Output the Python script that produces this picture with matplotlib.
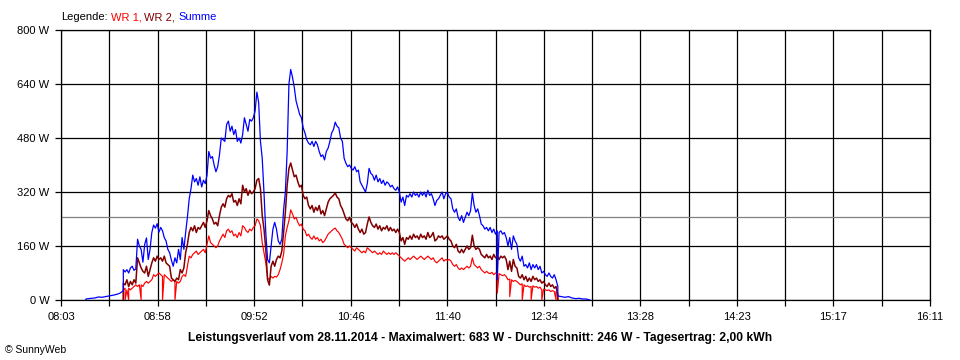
import matplotlib
matplotlib.use("Agg")
import matplotlib.pyplot as plt
import numpy as np

plt.rcParams['font.family'] = ['Liberation Sans', 'DejaVu Sans']

# time axis 08:03 .. 16:11, labels every 54 min
tick_labels = ["08:03", "08:58", "09:52", "10:46", "11:40", "12:34", "13:28", "14:23", "15:17", "16:11"]
y_ticks = [0, 160, 320, 480, 640, 800]
average = 246

# WR 1 (W)
wr1 = [
    ("08:38", 0), ("08:38", 30), ("08:39", 35), ("08:39", 0), ("08:40", 30), ("08:41", 0), ("08:41", 35),
    ("08:42", 30), ("08:43", 35), ("08:44", 40), ("08:45", 45), ("08:46", 40), ("08:47", 45), ("08:48", 0),
    ("08:48", 45), ("08:49", 40), ("08:50", 50), ("08:51", 55), ("08:52", 50), ("08:53", 55), ("08:54", 60),
    ("08:55", 75), ("08:56", 70), ("08:57", 75), ("08:58", 80), ("08:59", 75), ("09:00", 70), ("09:00", 0),
    ("09:01", 75), ("09:02", 70), ("09:03", 65), ("09:04", 60), ("09:05", 55), ("09:06", 60), ("09:07", 55),
    ("09:07", 0), ("09:08", 55), ("09:09", 50), ("09:10", 55), ("09:11", 70), ("09:12", 75), ("09:13", 70),
    ("09:14", 100), ("09:15", 130), ("09:16", 125), ("09:17", 135), ("09:18", 140), ("09:19", 145),
    ("09:20", 135), ("09:21", 140), ("09:22", 145), ("09:23", 150), ("09:24", 140), ("09:25", 165),
    ("09:26", 190), ("09:27", 170), ("09:28", 165), ("09:29", 160), ("09:30", 155), ("09:31", 160),
    ("09:32", 175), ("09:33", 185), ("09:34", 195), ("09:35", 185), ("09:36", 205), ("09:37", 210),
    ("09:38", 200), ("09:39", 205), ("09:40", 190), ("09:41", 195), ("09:42", 185), ("09:43", 200),
    ("09:44", 190), ("09:45", 220), ("09:46", 215), ("09:47", 205), ("09:48", 200), ("09:49", 210),
    ("09:50", 205), ("09:51", 215), ("09:52", 220), ("09:53", 240), ("09:54", 235), ("09:55", 220),
    ("09:56", 170), ("09:57", 140), ("09:58", 110), ("09:59", 65), ("10:00", 60), ("10:01", 70),
    ("10:02", 65), ("10:03", 70), ("10:04", 68), ("10:05", 75), ("10:06", 90), ("10:07", 110),
    ("10:08", 135), ("10:09", 190), ("10:10", 215), ("10:11", 235), ("10:12", 267), ("10:13", 255),
    ("10:14", 240), ("10:15", 245), ("10:16", 230), ("10:17", 220), ("10:18", 225), ("10:19", 210),
    ("10:20", 205), ("10:21", 190), ("10:22", 195), ("10:23", 185), ("10:24", 180), ("10:25", 190),
    ("10:26", 180), ("10:27", 185), ("10:28", 175), ("10:29", 180), ("10:30", 170), ("10:31", 175),
    ("10:32", 185), ("10:33", 195), ("10:34", 200), ("10:35", 205), ("10:36", 210), ("10:37", 213),
    ("10:38", 205), ("10:39", 200), ("10:40", 190), ("10:41", 180), ("10:42", 165), ("10:43", 160),
    ("10:44", 155), ("10:45", 160), ("10:46", 155), ("10:47", 150), ("10:48", 145), ("10:49", 155),
    ("10:50", 150), ("10:51", 145), ("10:52", 140), ("10:53", 145), ("10:54", 140), ("10:55", 155),
    ("10:56", 150), ("10:57", 145), ("10:58", 140), ("10:59", 145), ("11:00", 140), ("11:01", 135),
    ("11:02", 140), ("11:03", 135), ("11:04", 145), ("11:05", 140), ("11:06", 135), ("11:07", 140),
    ("11:08", 135), ("11:09", 140), ("11:10", 135), ("11:11", 140), ("11:12", 135), ("11:13", 130),
    ("11:14", 125), ("11:15", 120), ("11:16", 115), ("11:17", 120), ("11:18", 125), ("11:19", 120),
    ("11:20", 125), ("11:21", 130), ("11:22", 125), ("11:23", 120), ("11:24", 125), ("11:25", 130),
    ("11:26", 125), ("11:27", 120), ("11:28", 125), ("11:29", 130), ("11:30", 125), ("11:31", 120),
    ("11:32", 125), ("11:33", 115), ("11:34", 110), ("11:35", 115), ("11:36", 120), ("11:37", 125),
    ("11:38", 115), ("11:39", 120), ("11:40", 118), ("11:41", 120), ("11:42", 115), ("11:43", 105),
    ("11:44", 100), ("11:45", 105), ("11:46", 95), ("11:47", 90), ("11:48", 95), ("11:49", 90),
    ("11:50", 95), ("11:51", 100), ("11:52", 95), ("11:53", 100), ("11:54", 125), ("11:55", 105),
    ("11:56", 100), ("11:57", 95), ("11:58", 100), ("11:59", 90), ("12:00", 85), ("12:01", 80),
    ("12:02", 85), ("12:03", 80), ("12:04", 78), ("12:05", 82), ("12:06", 75), ("12:07", 80),
    ("12:08", 78), ("12:08", 20), ("12:09", 78), ("12:10", 75), ("12:11", 72), ("12:12", 75),
    ("12:13", 70), ("12:14", 60), ("12:15", 62), ("12:15", 10), ("12:16", 60), ("12:17", 55),
    ("12:18", 58), ("12:19", 55), ("12:20", 50), ("12:21", 45), ("12:22", 48), ("12:22", 0),
    ("12:23", 45), ("12:24", 40), ("12:25", 42), ("12:26", 38), ("12:27", 40), ("12:27", 0),
    ("12:28", 42), ("12:29", 38), ("12:30", 40), ("12:31", 35), ("12:32", 38), ("12:33", 30),
    ("12:33", 0), ("12:34", 32), ("12:35", 30), ("12:36", 28), ("12:37", 30), ("12:38", 25),
    ("12:39", 28), ("12:40", 25), ("12:41", 0), ("12:41", 25), ("12:42", 20), ("12:42", 0),
]

# WR 2 (W)
wr2 = [
    ("08:38", 0), ("08:38", 50), ("08:39", 45), ("08:40", 60), ("08:41", 40), ("08:42", 55), ("08:43", 45),
    ("08:44", 60), ("08:45", 50), ("08:46", 125), ("08:47", 110), ("08:48", 95), ("08:49", 85),
    ("08:50", 80), ("08:51", 100), ("08:52", 70), ("08:53", 90), ("08:54", 110), ("08:55", 125),
    ("08:56", 115), ("08:57", 130), ("08:58", 120), ("08:59", 125), ("09:00", 115), ("09:01", 130),
    ("09:02", 110), ("09:03", 105), ("09:04", 100), ("09:05", 65), ("09:06", 60), ("09:07", 55),
    ("09:08", 65), ("09:09", 60), ("09:10", 90), ("09:11", 80), ("09:12", 95), ("09:13", 140),
    ("09:14", 165), ("09:15", 200), ("09:16", 215), ("09:17", 205), ("09:18", 220), ("09:19", 200),
    ("09:20", 215), ("09:21", 210), ("09:22", 220), ("09:23", 230), ("09:24", 215), ("09:25", 235),
    ("09:26", 265), ("09:27", 250), ("09:28", 240), ("09:29", 225), ("09:30", 230), ("09:31", 220),
    ("09:32", 250), ("09:33", 275), ("09:34", 285), ("09:35", 275), ("09:36", 300), ("09:37", 310),
    ("09:38", 305), ("09:39", 315), ("09:40", 290), ("09:41", 295), ("09:42", 280), ("09:43", 300),
    ("09:44", 285), ("09:45", 340), ("09:46", 320), ("09:47", 330), ("09:48", 310), ("09:49", 325),
    ("09:50", 315), ("09:51", 320), ("09:52", 330), ("09:53", 355), ("09:54", 360), ("09:55", 330),
    ("09:56", 250), ("09:57", 210), ("09:58", 150), ("09:59", 60), ("10:00", 44), ("10:01", 100),
    ("10:02", 115), ("10:03", 100), ("10:04", 120), ("10:05", 130), ("10:06", 125), ("10:07", 145),
    ("10:08", 200), ("10:09", 260), ("10:10", 340), ("10:11", 390), ("10:12", 406), ("10:13", 385),
    ("10:14", 365), ("10:15", 370), ("10:16", 350), ("10:17", 335), ("10:18", 340), ("10:19", 310),
    ("10:20", 300), ("10:21", 305), ("10:22", 280), ("10:23", 270), ("10:24", 280), ("10:25", 260),
    ("10:26", 275), ("10:27", 265), ("10:28", 280), ("10:29", 255), ("10:30", 265), ("10:31", 250),
    ("10:32", 270), ("10:33", 290), ("10:34", 300), ("10:35", 305), ("10:36", 310), ("10:37", 317),
    ("10:38", 305), ("10:39", 300), ("10:40", 280), ("10:41", 270), ("10:42", 255), ("10:43", 240),
    ("10:44", 235), ("10:45", 245), ("10:46", 230), ("10:47", 225), ("10:48", 215), ("10:49", 225),
    ("10:50", 210), ("10:51", 200), ("10:52", 210), ("10:53", 195), ("10:54", 200), ("10:55", 225),
    ("10:56", 246), ("10:57", 230), ("10:58", 220), ("10:59", 215), ("11:00", 225), ("11:01", 210),
    ("11:02", 220), ("11:03", 205), ("11:04", 215), ("11:05", 210), ("11:06", 220), ("11:07", 205),
    ("11:08", 215), ("11:09", 205), ("11:10", 210), ("11:11", 200), ("11:12", 210), ("11:13", 200),
    ("11:14", 175), ("11:15", 185), ("11:16", 165), ("11:17", 185), ("11:18", 180), ("11:19", 190),
    ("11:20", 180), ("11:21", 195), ("11:22", 185), ("11:23", 190), ("11:24", 180), ("11:25", 195),
    ("11:26", 185), ("11:27", 190), ("11:28", 180), ("11:29", 200), ("11:30", 185), ("11:31", 190),
    ("11:32", 200), ("11:33", 175), ("11:34", 180), ("11:35", 190), ("11:36", 185), ("11:37", 190),
    ("11:38", 180), ("11:39", 185), ("11:40", 190), ("11:41", 180), ("11:42", 175), ("11:43", 160),
    ("11:44", 155), ("11:45", 165), ("11:46", 145), ("11:47", 140), ("11:48", 150), ("11:49", 140),
    ("11:50", 150), ("11:51", 160), ("11:52", 150), ("11:53", 155), ("11:54", 192), ("11:55", 160),
    ("11:56", 150), ("11:57", 155), ("11:58", 150), ("11:59", 135), ("12:00", 130), ("12:01", 125),
    ("12:02", 135), ("12:03", 125), ("12:04", 130), ("12:05", 120), ("12:06", 135), ("12:07", 125),
    ("12:08", 130), ("12:09", 120), ("12:10", 130), ("12:11", 125), ("12:12", 130), ("12:13", 120),
    ("12:14", 90), ("12:15", 115), ("12:16", 85), ("12:17", 120), ("12:18", 100), ("12:19", 95),
    ("12:20", 70), ("12:21", 65), ("12:22", 75), ("12:23", 60), ("12:24", 70), ("12:25", 55),
    ("12:26", 65), ("12:27", 55), ("12:28", 70), ("12:29", 60), ("12:30", 65), ("12:31", 55),
    ("12:32", 60), ("12:33", 50), ("12:34", 55), ("12:35", 45), ("12:36", 40), ("12:37", 50),
    ("12:38", 40), ("12:39", 45), ("12:40", 35), ("12:41", 40), ("12:42", 10), ("12:42", 0),
]

# Summe (W)
summe = [
    ("08:17", 0), ("08:17", 3), ("08:20", 5), ("08:22", 6), ("08:24", 9), ("08:26", 8), ("08:28", 10),
    ("08:30", 12), ("08:33", 15), ("08:35", 18), ("08:36", 20), ("08:38", 27), ("08:38", 90),
    ("08:39", 83), ("08:40", 90), ("08:41", 80), ("08:42", 95), ("08:43", 100), ("08:44", 88),
    ("08:45", 92), ("08:46", 180), ("08:47", 160), ("08:48", 150), ("08:49", 112), ("08:50", 165),
    ("08:51", 184), ("08:52", 120), ("08:53", 150), ("08:54", 200), ("08:55", 222), ("08:56", 213),
    ("08:57", 226), ("08:58", 201), ("08:59", 215), ("09:00", 205), ("09:01", 185), ("09:02", 175),
    ("09:03", 150), ("09:04", 140), ("09:05", 118), ("09:06", 100), ("09:07", 125), ("09:08", 110),
    ("09:09", 150), ("09:10", 120), ("09:11", 185), ("09:12", 150), ("09:13", 200), ("09:14", 246),
    ("09:15", 300), ("09:16", 330), ("09:17", 370), ("09:18", 350), ("09:19", 360), ("09:20", 340),
    ("09:21", 365), ("09:22", 335), ("09:23", 355), ("09:24", 345), ("09:25", 370), ("09:26", 440),
    ("09:27", 420), ("09:28", 425), ("09:29", 400), ("09:30", 380), ("09:31", 395), ("09:32", 430),
    ("09:33", 480), ("09:34", 475), ("09:35", 470), ("09:36", 520), ("09:37", 530), ("09:38", 500),
    ("09:39", 515), ("09:40", 490), ("09:41", 505), ("09:42", 470), ("09:43", 480), ("09:44", 465),
    ("09:45", 490), ("09:46", 540), ("09:47", 520), ("09:48", 500), ("09:49", 535), ("09:50", 530),
    ("09:51", 540), ("09:52", 560), ("09:53", 616), ("09:54", 585), ("09:55", 470), ("09:56", 420),
    ("09:57", 317), ("09:58", 200), ("09:59", 120), ("10:00", 110), ("10:01", 160), ("10:02", 210),
    ("10:03", 230), ("10:04", 210), ("10:05", 175), ("10:06", 165), ("10:07", 180), ("10:08", 267),
    ("10:09", 320), ("10:10", 440), ("10:11", 640), ("10:12", 683), ("10:13", 660), ("10:14", 630),
    ("10:15", 590), ("10:16", 570), ("10:17", 550), ("10:18", 540), ("10:19", 510), ("10:20", 495),
    ("10:21", 475), ("10:22", 465), ("10:23", 460), ("10:24", 470), ("10:25", 455), ("10:26", 470),
    ("10:27", 460), ("10:28", 440), ("10:29", 425), ("10:30", 430), ("10:31", 415), ("10:32", 440),
    ("10:33", 450), ("10:34", 470), ("10:35", 495), ("10:36", 505), ("10:37", 527), ("10:38", 515),
    ("10:39", 510), ("10:40", 480), ("10:41", 470), ("10:42", 420), ("10:43", 405), ("10:44", 395),
    ("10:45", 400), ("10:46", 390), ("10:47", 385), ("10:48", 395), ("10:49", 380), ("10:50", 385),
    ("10:51", 350), ("10:52", 340), ("10:53", 330), ("10:54", 320), ("10:55", 345), ("10:56", 390),
    ("10:57", 375), ("10:58", 370), ("10:59", 355), ("11:00", 370), ("11:01", 350), ("11:02", 360),
    ("11:03", 345), ("11:04", 355), ("11:05", 340), ("11:06", 350), ("11:07", 345), ("11:08", 335),
    ("11:09", 340), ("11:10", 330), ("11:11", 325), ("11:12", 335), ("11:13", 320), ("11:14", 290),
    ("11:15", 305), ("11:16", 280), ("11:17", 310), ("11:18", 305), ("11:19", 315), ("11:20", 305),
    ("11:21", 320), ("11:22", 310), ("11:23", 315), ("11:24", 305), ("11:25", 320), ("11:26", 310),
    ("11:27", 320), ("11:28", 305), ("11:29", 325), ("11:30", 310), ("11:31", 315), ("11:32", 300),
    ("11:33", 280), ("11:34", 295), ("11:35", 300), ("11:36", 310), ("11:37", 320), ("11:38", 300),
    ("11:39", 315), ("11:40", 318), ("11:41", 305), ("11:42", 300), ("11:43", 270), ("11:44", 260),
    ("11:45", 270), ("11:46", 245), ("11:47", 235), ("11:48", 250), ("11:49", 230), ("11:50", 245),
    ("11:51", 260), ("11:52", 250), ("11:53", 265), ("11:54", 317), ("11:55", 280), ("11:56", 260),
    ("11:57", 270), ("11:58", 250), ("11:59", 225), ("12:00", 220), ("12:01", 210), ("12:02", 215),
    ("12:03", 205), ("12:04", 215), ("12:05", 200), ("12:06", 210), ("12:07", 195), ("12:08", 205),
    ("12:08", 60), ("12:09", 200), ("12:10", 205), ("12:11", 195), ("12:12", 200), ("12:13", 185),
    ("12:14", 160), ("12:15", 185), ("12:16", 150), ("12:17", 190), ("12:18", 175), ("12:19", 165),
    ("12:20", 125), ("12:21", 115), ("12:22", 130), ("12:23", 100), ("12:24", 105), ("12:25", 95),
    ("12:26", 110), ("12:27", 90), ("12:28", 105), ("12:29", 95), ("12:30", 105), ("12:31", 90),
    ("12:32", 100), ("12:33", 80), ("12:34", 85), ("12:35", 75), ("12:36", 70), ("12:37", 80),
    ("12:38", 70), ("12:39", 65), ("12:40", 75), ("12:41", 60), ("12:42", 40), ("12:42", 12),
    ("12:44", 10), ("12:46", 8), ("12:48", 10), ("12:50", 6), ("12:52", 4), ("12:54", 5),
    ("12:56", 3), ("12:58", 3), ("13:00", 0),
]


def to_min(s):
    h, m = s.split(":")
    return int(h) * 60 + int(m)


def unzip(series):
    t = [to_min(a) for a, b in series]
    v = [b for a, b in series]
    return t, v


t_start = to_min(tick_labels[0])
t_end = to_min(tick_labels[-1])

W, H = 960, 360
fig = plt.figure(figsize=(W / 100, H / 100), dpi=100)
ax = fig.add_axes([61 / W, 60 / H, 869 / W, 270 / H])

# grid every 27 min, labelled every second line
grid_x = np.linspace(t_start, t_end, 19)
for gx in grid_x:
    ax.axvline(gx, color="black", linewidth=0.9, zorder=1)
for gy in y_ticks:
    ax.axhline(gy, color="black", linewidth=0.9, zorder=1)
ax.axhline(average, color="#808080", linewidth=0.9, zorder=2)

t, v = unzip(wr1)
ax.plot(t, v, color="#ff0000", linewidth=0.85, zorder=3)
t, v = unzip(wr2)
ax.plot(t, v, color="#800000", linewidth=1.1, zorder=4)
t, v = unzip(summe)
ax.plot(t, v, color="#0000ff", linewidth=0.9, zorder=5)

ax.set_xlim(t_start, t_end)
ax.set_ylim(0, 800)
ax.set_xticks(grid_x)
ax.set_xticklabels([tick_labels[j // 2] if j % 2 == 0 else "" for j in range(19)])
ax.set_yticks(y_ticks)
ax.set_yticklabels([f"{y} W" for y in y_ticks])
ax.tick_params(axis="both", direction="out", length=4.3, width=0.9, color="black",
               labelsize=8, pad=4)
for sp in ax.spines.values():
    sp.set_linewidth(0.9)
    sp.set_color("black")

fig.text(480 / W, 1 - 338 / H,
         "Leistungsverlauf vom 28.11.2014 - Maximalwert: 683 W - Durchschnitt: 246 W - Tagesertrag: 2,00 kWh",
         ha="center", va="center", fontsize=8.75, fontweight="bold")
fig.text(5 / W, 1 - 350 / H, "\u00a9 SunnyWeb", ha="left", va="center", fontsize=7.5)

# legend line with coloured words
renderer = fig.canvas.get_renderer()
parts = [("Legende:", "black"), ("WR 1,", "#ff0000"), ("WR 2,", "#800000"), ("Summe", "#0000ff")]
x = 61
for s, c in parts:
    txt = fig.text(x / W, 1 - 17 / H, s, color=c, ha="left", va="center", fontsize=8)
    x += txt.get_window_extent(renderer=renderer).width + 3

fig.savefig("out.png", dpi=100)
